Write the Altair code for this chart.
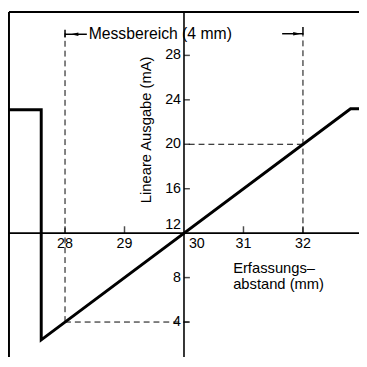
import altair as alt
import pandas as pd

FONT = "Liberation Sans"
NUM_FONT = "Liberation Sans Narrow, Liberation Sans"

# Plot domain (mm, mA)
x_domain = [27.058, 32.942]
y_domain = [0.85, 31.91]

# Sensor characteristic curve
curve_x = [26.9, 27.6, 27.6, 32.8, 33.1]
curve_y = [23.1, 23.1, 2.4, 23.2, 23.2]

# Axis ticks
x_ticks = [28, 29, 31, 32]
x_tick_labels = ["28", "29", "31", "32"]
x_center_label = ["30"]
y_ticks = [4, 8, 16, 20, 24, 28]
y_tick_labels = ["4", "8", "16", "20", "24", "28"]
y_center_label = ["12"]

# Dashed guide segments (measuring range 28..32 mm -> 4..20 mA)
guide_x = [28.0, 32.0, 28.0, 30.08]
guide_y = [4.0, 12.0, 4.0, 20.0]
guide_x2 = [28.0, 32.0, 30.12, 32.0]
guide_y2 = [30.0, 30.0, 4.0, 20.0]

# Measuring range annotation
range_start = 28.0
range_end = 32.0
range_level = 29.9
range_text = "Messbereich (4 mm)"
range_text_x = 28.397

x_title = "Erfassungs–\nabstand (mm)"
x_title_pos = (30.826, 8.37)
y_title = "Lineare Ausgabe (mA)"
y_title_pos = (29.36, 21.3)

xs = alt.Scale(domain=x_domain, nice=False, zero=False)
ys = alt.Scale(domain=y_domain, nice=False, zero=False)


def X(f="x"):
    return alt.X(f"{f}:Q", scale=xs, axis=None)


def Y(f="y"):
    return alt.Y(f"{f}:Q", scale=ys, axis=None)


curve_df = pd.DataFrame({"x": curve_x, "y": curve_y, "o": range(len(curve_x))})
curve = alt.Chart(curve_df).mark_line(color="black", strokeWidth=3, clip=True, strokeJoin="miter").encode(
    x=X(), y=Y(), order="o:Q"
)

# Frame (top and left)
frame_df = pd.DataFrame({
    "x": [x_domain[0], x_domain[0]], "x2": [x_domain[1], x_domain[0]],
    "y": [y_domain[1], y_domain[0]], "y2": [y_domain[1], y_domain[1]],
})
frame = alt.Chart(frame_df).mark_rule(color="black", strokeWidth=2).encode(
    x=X(), x2="x2:Q", y=Y(), y2="y2:Q"
)

# Axes lines through (30, 12)
axes_df = pd.DataFrame({
    "x": [x_domain[0], 30.0], "x2": [x_domain[1], 30.0],
    "y": [12.0, y_domain[0]], "y2": [12.0, y_domain[1]],
})
axes = alt.Chart(axes_df).mark_rule(color="black", strokeWidth=1.6).encode(
    x=X(), x2="x2:Q", y=Y(), y2="y2:Q"
)

xt_df = pd.DataFrame({"x": x_ticks, "y": [12] * len(x_ticks), "t": x_tick_labels})
xtick_marks = alt.Chart(xt_df).mark_tick(orient="vertical", size=7, thickness=1.5, yOffset=-3.5, color="black").encode(
    x=X(), y=Y()
)
xtick_text = alt.Chart(xt_df).mark_text(font=NUM_FONT, fontSize=14.5, baseline="middle", align="center", dy=11).encode(
    x=X(), y=Y(), text="t:N"
)
xc_df = pd.DataFrame({"x": [30], "y": [12], "t": x_center_label})
xc_text = alt.Chart(xc_df).mark_text(font=NUM_FONT, fontSize=14.5, baseline="middle", align="left", dx=5, dy=11).encode(
    x=X(), y=Y(), text="t:N"
)

yt_df = pd.DataFrame({"x": [30] * len(y_ticks), "y": y_ticks, "t": y_tick_labels})
ytick_marks = alt.Chart(yt_df).mark_tick(orient="horizontal", size=6, thickness=1.5, xOffset=3, color="black").encode(
    x=X(), y=Y()
)
ytick_text = alt.Chart(yt_df).mark_text(font=NUM_FONT, fontSize=14.5, baseline="middle", align="right", dx=-3).encode(
    x=X(), y=Y(), text="t:N"
)
yc_df = pd.DataFrame({"x": [30], "y": [12], "t": y_center_label})
yc_text = alt.Chart(yc_df).mark_text(font=NUM_FONT, fontSize=14.5, baseline="middle", align="right", dx=-3, dy=-8).encode(
    x=X(), y=Y(), text="t:N"
)

guide_df = pd.DataFrame({"x": guide_x, "y": guide_y, "x2": guide_x2, "y2": guide_y2})
guides = alt.Chart(guide_df).mark_rule(color="black", strokeWidth=1, strokeDash=[6, 4]).encode(
    x=X(), x2="x2:Q", y=Y(), y2="y2:Q"
)

# Range annotation arrows
bar_df = pd.DataFrame({
    "x": [range_start, range_end], "x2": [range_start, range_end],
    "y": [29.6, 29.85], "y2": [30.3, 30.55],
})
bars = alt.Chart(bar_df).mark_rule(color="black", strokeWidth=1.5).encode(
    x=X(), x2="x2:Q", y=Y(), y2="y2:Q"
)
aline_df = pd.DataFrame({
    "x": [range_start, 31.65], "x2": [range_text_x - 0.03, range_end],
    "y": [range_level, range_level + 0.05], "y2": [range_level, range_level + 0.05],
})
alines = alt.Chart(aline_df).mark_rule(color="black", strokeWidth=1.5).encode(
    x=X(), x2="x2:Q", y=Y(), y2="y2:Q"
)
head_l = alt.Chart(pd.DataFrame({"x": [range_start + 0.16], "y": [range_level]})).mark_point(
    shape="M-1,0L1,-0.45L1,0.45Z", size=60, filled=True, color="black", opacity=1
).encode(x=X(), y=Y())
head_r = alt.Chart(pd.DataFrame({"x": [range_end - 0.1], "y": [range_level + 0.05]})).mark_point(
    shape="M1,0L-1,-0.45L-1,0.45Z", size=60, filled=True, color="black", opacity=1
).encode(x=X(), y=Y())

rtext = alt.Chart(pd.DataFrame({"x": [range_text_x], "y": [range_level], "t": [range_text]})).mark_text(
    font=FONT, fontSize=16, align="left", baseline="middle"
).encode(x=X(), y=Y(), text="t:N")

xtitle = alt.Chart(pd.DataFrame({"x": [x_title_pos[0]], "y": [x_title_pos[1]], "t": [x_title]})).mark_text(
    font=FONT, fontSize=15, align="left", baseline="alphabetic", lineBreak="\n", lineHeight=16
).encode(x=X(), y=Y(), text="t:N")

ytitle = alt.Chart(pd.DataFrame({"x": [y_title_pos[0]], "y": [y_title_pos[1]], "t": [y_title]})).mark_text(
    font=FONT, fontSize=15, align="center", baseline="middle", angle=270
).encode(x=X(), y=Y(), text="t:N")

chart = alt.layer(
    guides, frame, axes, curve, xtick_marks, xtick_text, xc_text, ytick_marks, ytick_text, yc_text,
    bars, alines, head_l, head_r, rtext, xtitle, ytitle
).properties(
    width=356, height=351,
    padding={"left": 1, "top": 1, "right": 0, "bottom": 0},
    autosize=alt.AutoSizeParams(type="none"),
).configure_view(stroke=None)

chart.save("out.html", embed_options={"renderer": "svg", "actions": False})
